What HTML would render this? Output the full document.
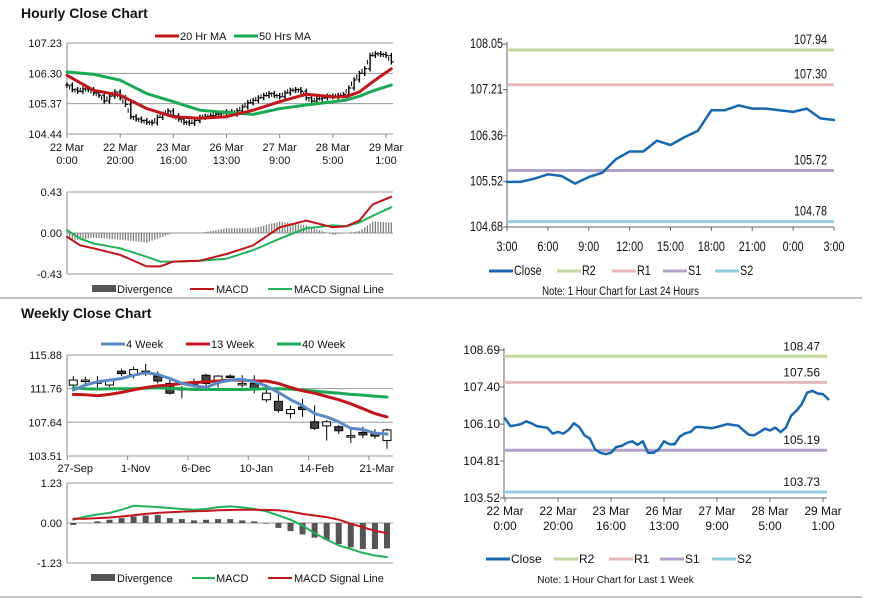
<!DOCTYPE html>
<html><head><meta charset="utf-8">
<style>
body{margin:0;background:#fff;width:873px;height:601px;overflow:hidden;font-family:"Liberation Sans",Arial,sans-serif}
svg{position:absolute;left:0;top:0;font-size:11px}
text{font-family:"Liberation Sans",Arial,sans-serif;fill:#111}
</style></head><body>
<svg id="c" width="873" height="601"></svg>
<script>
// ---------- DATA ----------
const hrClose=[105.94,105.80,105.75,105.82,105.80,105.70,105.63,105.45,105.60,105.73,105.55,105.35,104.97,104.90,104.85,104.80,104.78,104.95,105.05,105.15,105.00,104.90,104.80,104.77,104.85,104.95,104.98,105.00,105.05,105.08,105.12,105.05,105.15,105.27,105.40,105.47,105.55,105.62,105.68,105.62,105.58,105.70,105.78,105.80,105.75,105.55,105.45,105.52,105.55,105.60,105.58,105.62,105.65,105.85,106.10,106.30,106.44,106.85,106.90,106.88,106.85,106.65];
const maHours=[0,10,20,30,40,50,60,70,80,90,100,105,110,115,122];
const ma20=[106.24,105.78,105.63,105.22,104.97,104.92,104.97,105.17,105.43,105.66,105.58,105.58,105.73,106.04,106.44];
const ma50=[106.34,106.27,106.09,105.68,105.43,105.17,105.10,105.04,105.22,105.33,105.43,105.48,105.60,105.76,105.94];
const macdHours=[0,5,10,20,30,35,40,50,60,70,80,90,100,105,110,115,122];
const hMacd=[-0.04,-0.13,-0.16,-0.23,-0.35,-0.35,-0.30,-0.29,-0.22,-0.13,0.06,0.13,0.06,0.07,0.13,0.30,0.38];
const hSignal=[0.03,-0.06,-0.11,-0.16,-0.25,-0.30,-0.30,-0.29,-0.27,-0.18,-0.06,0.05,0.08,0.07,0.11,0.18,0.27];
const hTickLabels=[["22 Mar","0:00"],["22 Mar","20:00"],["23 Mar","16:00"],["26 Mar","13:00"],["27 Mar","9:00"],["28 Mar","5:00"],["29 Mar","1:00"]];
const dClose=[105.51,105.51,105.57,105.65,105.62,105.48,105.60,105.68,105.93,106.07,106.07,106.27,106.19,106.33,106.45,106.83,106.83,106.92,106.86,106.86,106.83,106.80,106.86,106.68,106.65];
const dTicks=["3:00","6:00","9:00","12:00","15:00","18:00","21:00","0:00","3:00"];
const dLevels=[107.94,107.30,105.72,104.78];
const wkClose=[106.30,106.03,106.06,106.10,106.20,106.13,106.03,106.00,105.97,105.77,105.83,105.77,105.90,106.13,106.00,105.71,105.60,105.22,105.10,105.05,105.10,105.30,105.34,105.45,105.50,105.38,105.50,105.10,105.10,105.22,105.50,105.40,105.40,105.67,105.78,105.83,106.00,106.00,105.98,105.96,106.00,106.05,106.10,106.07,106.05,105.88,105.73,105.71,105.82,105.94,105.88,105.98,105.82,105.98,106.40,106.57,106.80,107.20,107.26,107.17,107.15,106.97];
const wkLevels=[108.47,107.56,105.19,103.73];
const wOpen=[112.2,112.81,112.6,112.2,113.9,113.5,113.9,113.3,112.4,111.8,112.6,113.4,112.7,113.3,112.4,112.4,110.4,110.2,108.7,109.5,107.7,107.2,107.1,106.0,106.4,106.3,105.4];
const wClose=[112.81,112.81,112.6,112.8,113.6,114.1,113.7,112.7,111.2,111.6,112.3,112.4,113.3,113.2,112.4,111.6,111.2,109.1,109.2,109.2,106.9,107.7,106.6,106.0,106.1,105.95,106.7];
const wHigh=[113.3,113.2,113.3,113.0,114.2,114.45,114.8,113.9,112.9,112.1,113.0,113.6,113.4,113.5,113.4,113.4,111.6,111.5,109.7,110.5,109.7,107.9,107.3,107.1,107.1,106.8,106.9];
const wLow=[111.66,112.3,111.9,112.0,113.3,113.0,113.3,112.4,111.05,110.6,111.9,111.9,111.9,113.1,111.9,111.2,110.1,108.8,108.1,108.3,106.7,105.4,106.2,105.1,105.7,105.6,104.4];
const w4=[111.58,112.2,112.6,112.8,113.0,113.4,113.7,113.5,113.0,112.4,112.1,111.9,112.5,112.8,112.9,112.6,112.1,111.3,110.4,109.7,108.7,108.3,107.7,106.9,106.75,106.3,106.2];
const w13=[111.05,111.0,110.9,111.05,111.3,111.6,111.9,112.1,112.2,112.4,112.5,112.6,112.7,112.8,112.8,112.7,112.7,112.4,111.9,111.5,111.2,110.8,110.4,109.9,109.3,108.7,108.3];
const w40=[111.87,111.74,111.70,111.74,111.74,111.74,111.83,111.87,111.78,111.74,111.66,111.66,111.66,111.66,111.66,111.70,111.74,111.74,111.70,111.58,111.46,111.33,111.21,111.05,110.97,110.84,110.72];
const wTickLabels=["27-Sep","1-Nov","6-Dec","10-Jan","14-Feb","21-Mar"];
const wMacd=[0.10,0.20,0.26,0.31,0.41,0.53,0.51,0.49,0.46,0.43,0.41,0.43,0.49,0.51,0.48,0.43,0.36,0.23,0.10,-0.08,-0.31,-0.51,-0.69,-0.80,-0.92,-1.00,-1.05];
const wSignal=[0.13,0.13,0.15,0.17,0.20,0.24,0.28,0.31,0.33,0.35,0.36,0.37,0.39,0.40,0.41,0.41,0.40,0.39,0.35,0.28,0.23,0.18,0.10,-0.02,-0.13,-0.24,-0.31];
const wDiv=[-0.06,0,0.05,0.10,0.15,0.20,0.23,0.25,0.15,0.12,0.08,0.10,0.12,0.12,0.08,0.05,-0.02,-0.15,-0.25,-0.35,-0.45,-0.52,-0.65,-0.75,-0.80,-0.80,-0.78];

// ---------- HELPERS ----------
const S=document.getElementById('c');const NS='http://www.w3.org/2000/svg';
function el(t,a,p){const e=document.createElementNS(NS,t);for(const k in a)e.setAttribute(k,a[k]);(p||S).appendChild(e);return e;}
function grp(name){const g=el('g',{});return g;}
function txt(g,x,y,s,o){const t=el('text',Object.assign({x:x,y:y},o||{}),g);t.textContent=s;return t;}
function txtN(g,x,y,s,anchor,size){const t=el('text',{x:0,y:0,'text-anchor':anchor||'start','font-size':size||13,transform:'translate('+x+','+y+') scale(0.8,1)'},g);t.textContent=s;return t;}
function ln(g,x1,y1,x2,y2,c,w){return el('line',{x1:x1,y1:y1,x2:x2,y2:y2,stroke:c,'stroke-width':w||1},g);}
function poly(g,pts,c,w){return el('polyline',{points:pts.map(p=>p[0].toFixed(1)+','+p[1].toFixed(1)).join(' '),fill:'none',stroke:c,'stroke-width':w,'stroke-linejoin':'round','stroke-linecap':'round'},g);}
function lin(d0,d1,r0,r1){return v=>r0+(v-d0)*(r1-r0)/(d1-d0);}
function interp(xs,ys,h){for(let i=1;i<xs.length;i++){if(h<=xs[i]){const f=(h-xs[i-1])/(xs[i]-xs[i-1]);return ys[i-1]+f*(ys[i]-ys[i-1]);}}return ys[ys.length-1];}
function legLine(g,x,y,c,label,w){ln(g,x,y,x+24,y,c,w||3);txt(g,x+25,y+4,label);}

const tg=grp('titles');
let t=txt(tg,21,18,'Hourly Close Chart',{'font-size':'14','font-weight':'bold'});
t=txt(tg,21,318,'Weekly Close Chart',{'font-size':'14','font-weight':'bold'});
ln(tg,0,298,862,298,'#888',1);ln(tg,0,597,862,597,'#888',1);

// ---------- HOURLY PRICE ----------
(function(){
const g=grp('hourly-price-chart');
const x=lin(0,120,67,386), y=lin(104.44,107.23,134,43);
[104.44,105.37,106.30,107.23].forEach(v=>{ln(g,67,y(v),393,y(v),'#999',1);txt(g,62,y(v)+4,v.toFixed(2),{'text-anchor':'end'});});
ln(g,67,43,67,134,'#888',1);
hTickLabels.forEach((l,i)=>{const xx=x(i*20);ln(g,xx,134,xx,138,'#888');txt(g,xx,151,l[0],{'text-anchor':'middle'});txt(g,xx,164,l[1],{'text-anchor':'middle'});});
hrClose.forEach((v,i)=>{const p=i?hrClose[i-1]:v;const xx=x(i*2);
 const b=el('line',{x1:xx,x2:xx,y1:y(Math.max(v,p)+0.08),y2:y(Math.min(v,p)-0.08),stroke:'#000','stroke-width':1.4},g);
 
 ln(g,xx-2,y(p),xx,y(p),'#000',1);ln(g,xx,y(v),xx+2.5,y(v),'#000',1.2);
 if(i){const xm=xx-2.66;ln(g,xm,y((v+p)/2+0.07),xm,y((v+p)/2-0.07),'#000',1);}});
let l=poly(g,maHours.map((h,i)=>[x(h),y(ma50[i])]),'#1aaa55',3);
l=poly(g,maHours.map((h,i)=>[x(h),y(ma20[i])]),'#c0161c',3);
const lg=grp('hourly-legend');legLine(lg,155,36,'#c0161c','20 Hr MA');legLine(lg,234,36,'#1aaa55','50 Hrs MA');
})();

// ---------- HOURLY MACD ----------
(function(){
const g=grp('hourly-macd-chart');
const x=lin(0,120,67,386), y=lin(-0.43,0.43,274,192);
[-0.43,0,0.43].forEach(v=>{ln(g,67,y(v),393,y(v),'#999',1);txt(g,62,y(v)+4,v.toFixed(2),{'text-anchor':'end'});});
ln(g,67,192,67,274,'#888');
for(let h=1;h<=122;h++){const d=interp(macdHours,hMacd,h)-interp(macdHours,hSignal,h);
 const b=el('rect',{x:x(h)-0.6,y:Math.min(y(0),y(d)),width:1.2,height:Math.abs(y(d)-y(0)),fill:'#777'},g);
 }
let l=poly(g,macdHours.map((h,i)=>[x(h),y(hSignal[i])]),'#22b35a',2);
l=poly(g,macdHours.map((h,i)=>[x(h),y(hMacd[i])]),'#c0161c',2);
const lg=grp('hourly-macd-legend');
el('rect',{x:92,y:285,width:24,height:7,fill:'#555'},lg);txt(lg,117,293,'Divergence');
ln(lg,190,289,214,289,'#c0161c',2);txt(lg,216,293,'MACD');
ln(lg,268,289,292,289,'#22b35a',2);txt(lg,294,293,'MACD Signal Line');
})();

// ---------- PIVOT CHARTS ----------
const lvlColors=['#c3d69b','#e6b9b8','#b3a2c7','#93cddd'];
function pivot(name,x0,x1,ylo,yhi,vlo,vhi,ticksY,levels,pts,xlab,legY,note,narrow){
const g=grp(name);const y=lin(vlo,vhi,ylo,yhi);
const T=narrow?(gg,xx,yy,s,a)=>txtN(gg,xx,yy,s,a,13.5):(gg,xx,yy,s,a)=>txt(gg,xx,yy,s,{'text-anchor':a,'font-size':'12'});
ln(g,x0,yhi-2,x0,ylo,'#666');ln(g,x0,ylo,x1,ylo,'#666');
ticksY.forEach(v=>{ln(g,x0-4,y(v),x0,y(v),'#666');T(g,x0-4,y(v)+4,v.toFixed(2),'end');});
levels.forEach((v,i)=>{const r=ln(g,x0,y(v),x1,y(v),lvlColors[i],3);T(g,x1-7,y(v)-6,v.toFixed(2),'end');});
xlab(g,T);
const l=poly(g,pts(y),'#1768b0',2.5);
const lg=grp(name+'-legend');const lx=[x0+2,x0+70,x0+125,x0+176,x0+228];const nm=['Close','R2','R1','S1','S2'];const cs=['#1768b0'].concat(lvlColors);
nm.forEach((n,i)=>{ln(lg,lx[i]-20,legY,lx[i]+4,legY,cs[i],3);T(lg,lx[i]+5,legY+4,n,'start');});
if(narrow)txtN(lg,(x0+x1)/2-50,legY+24,note,'middle',12);else txt(lg,(x0+x1)/2-50,legY+24,note,{'text-anchor':'middle','font-size':'10'});
}
pivot('daily-pivot-chart',507,834,227,44,104.68,108.05,[104.68,105.52,106.36,107.21,108.05],dLevels,
 y=>{const x=lin(0,24,507,834);return dClose.map((v,i)=>[x(i),y(v)]);},
 (g,T)=>{const x=lin(0,24,507,834);dTicks.forEach((s,i)=>{ln(g,x(i*3),227,x(i*3),231,'#666');T(g,x(i*3),251,s,'middle');});},
 271,'Note: 1 Hour Chart for Last 24 Hours',true);
pivot('weekly-pivot-chart',504,827,498,350,103.52,108.69,[103.52,104.81,106.10,107.40,108.69],wkLevels,
 y=>{const x=lin(0,120,505,823);return wkClose.map((v,i)=>[x(i*2),y(v)]);},
 (g,T)=>{const x=lin(0,120,505,823);hTickLabels.forEach((l,i)=>{ln(g,x(i*20),498,x(i*20),502,'#666');T(g,x(i*20),515,l[0],'middle');T(g,x(i*20),530,l[1],'middle');});},
 559,'Note: 1 Hour Chart for Last 1 Week',false);

// ---------- WEEKLY CANDLES ----------
(function(){
const g=grp('weekly-price-chart');
const x=lin(0,26,73.3,387), y=lin(103.51,115.88,456,355);
[103.51,107.64,111.76,115.88].forEach(v=>{ln(g,67,y(v),393,y(v),'#999');txt(g,62,y(v)+4,v.toFixed(2),{'text-anchor':'end'});});
ln(g,67,355,67,456,'#888');
wTickLabels.forEach((s,i)=>{const xx=x(i*5);ln(g,xx-6,456,xx-6,460,'#888');txt(g,xx+2,472,s,{'text-anchor':'middle'});});
wOpen.forEach((o,i)=>{const c=wClose[i];const xx=x(i);
 ln(g,xx,y(wHigh[i]),xx,y(wLow[i]),'#000',1);
 const top=y(Math.max(o,c)),h=Math.max(1.5,Math.abs(y(o)-y(c)));
 const r=el('rect',{x:xx-4,y:top,width:8,height:h,fill:c>=o?'#fff':'#444',stroke:'#000','stroke-width':1},g);
 });
[[w40,'#1aaa55','ma40-line'],[w13,'#c0161c','ma13-line'],[w4,'#5b88c6','ma4-line']].forEach(a=>{const l=poly(g,a[0].map((v,i)=>[x(i),y(v)]),a[1],3);});
const lg=grp('weekly-legend');legLine(lg,101,344,'#5b88c6','4 Week');legLine(lg,186,344,'#c0161c','13 Week');legLine(lg,277,344,'#1aaa55','40 Week');
})();

// ---------- WEEKLY MACD ----------
(function(){
const g=grp('weekly-macd-chart');
const x=lin(0,26,73.3,387), y=lin(-1.23,1.23,563,483);
[-1.23,0,1.23].forEach(v=>{ln(g,67,y(v),393,y(v),'#999');txt(g,62,y(v)+4,v.toFixed(2),{'text-anchor':'end'});});
ln(g,67,483,67,563,'#888');
wDiv.forEach((d,i)=>{const b=el('rect',{x:x(i)-3,y:Math.min(y(0),y(d)),width:6,height:Math.abs(y(d)-y(0)),fill:'#555'},g);});
let l=poly(g,wMacd.map((v,i)=>[x(i),y(v)]),'#22b35a',2);
l=poly(g,wSignal.map((v,i)=>[x(i),y(v)]),'#c0161c',2);
const lg=grp('weekly-macd-legend');
el('rect',{x:91,y:574,width:24,height:7,fill:'#555'},lg);txt(lg,117,582,'Divergence');
ln(lg,192,578,215,578,'#22b35a',2);txt(lg,216,582,'MACD');
ln(lg,268,578,292,578,'#c0161c',2);txt(lg,294,582,'MACD Signal Line');
})();
</script>
</body></html>
